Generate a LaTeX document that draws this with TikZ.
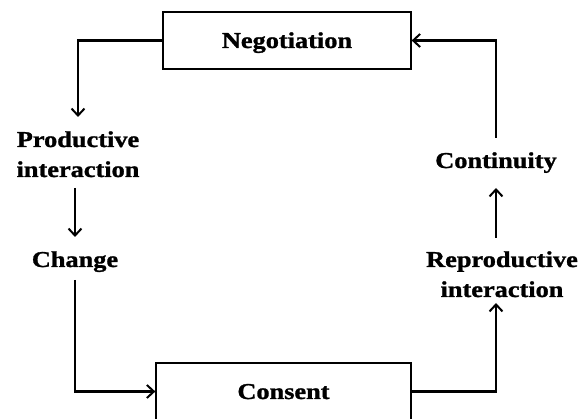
\documentclass[tikz,border=0pt]{standalone}
\usepackage{fontspec}
\setmainfont{Liberation Serif}[FakeStretch=1.16, BoldFeatures={FakeBold=1.2}]
\usetikzlibrary{arrows.meta}

\begin{document}
\begin{tikzpicture}[x=1pt,y=-1pt,
  lbl/.style={font=\fontsize{22.7}{30}\selectfont\bfseries, align=center, inner sep=0pt},
  box/.style={draw, line width=1.3pt, inner sep=0pt, minimum height=57pt,
              font=\fontsize{22.7}{30}\selectfont\bfseries, text height=15pt, text depth=0pt},
  conn/.style={line width=2.4pt, line join=miter,
               -{Straight Barb[length=7pt,width=13pt,line width=2pt]}}
]
\useasboundingbox (0,0) rectangle (581,419);

% the two boxes
\node[box, minimum width=248pt] (neg) at (287,40.5) {Negotiation};
\node[box, minimum width=255pt] (con) at (283.5,391.5) {Consent};

% free-standing stages (base anchor = baseline of the last line)
\node[lbl, anchor=base] (prod) at (78,177) {Productive\\interaction};
\node[lbl, anchor=base] (chg)  at (75,267) {Change};
\node[lbl, anchor=base] (cont) at (496,168) {Continuity};
\node[lbl, anchor=base] (repr) at (502,297) {Reproductive\\interaction};

% connector ends next to the labels
\coordinate (prodtop) at (78,117);
\coordinate (prodbot) at (75,188);
\coordinate (chgtop)  at (75,237);
\coordinate (chgbot)  at (75,280);
\coordinate (reprbot) at (496,303);
\coordinate (reprtop) at (496,238);
\coordinate (contbot) at (496,188);
\coordinate (conttop) at (496,138);

% left side: negotiation -> productive interaction -> change -> consent
\draw[conn] (neg.west) -| (prodtop);
\draw[conn] (prodbot) -- (chgtop);
\draw[conn] (chgbot) |- (con.west);

% right side: consent -> reproductive interaction -> continuity -> negotiation
\draw[conn] (con.east) -| (reprbot);
\draw[conn] (reprtop) -- (contbot);
\draw[conn] (conttop) |- (neg.east);
\end{tikzpicture}
\end{document}
